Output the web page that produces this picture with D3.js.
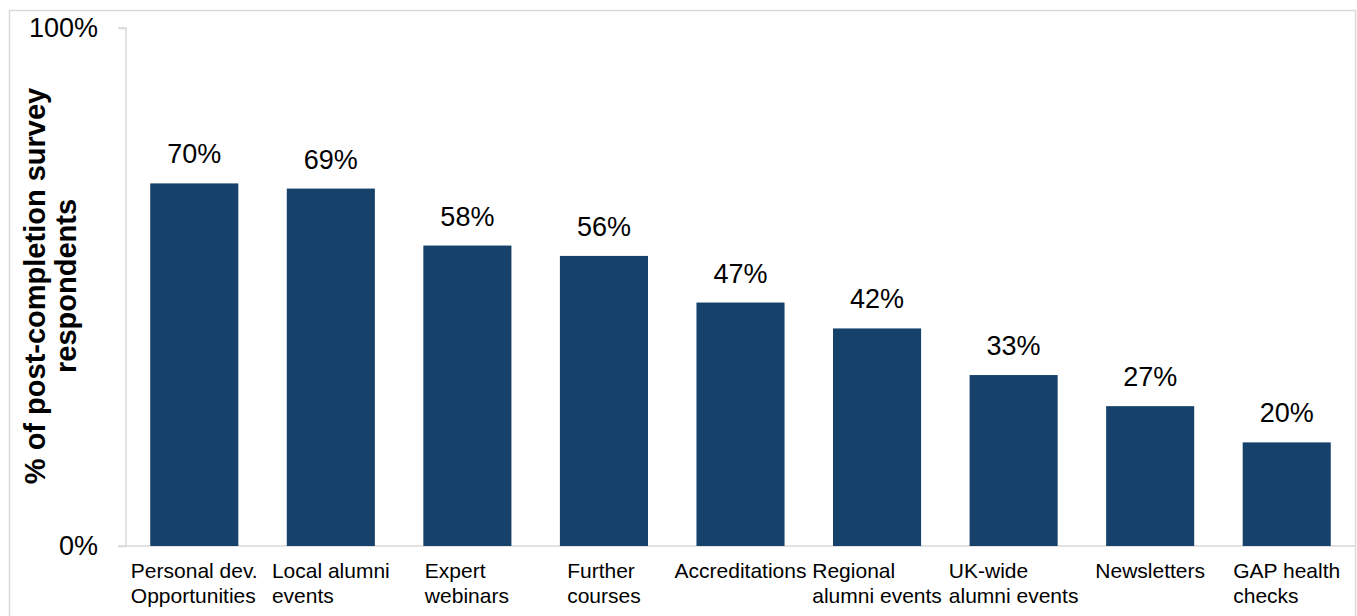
<!DOCTYPE html>
<html>
<head>
<meta charset="utf-8">
<script src="https://cdn.jsdelivr.net/npm/d3@7"></script>
<style>
  html, body { margin: 0; padding: 0; background: #fff; }
  svg { display: block; font-family: "Liberation Sans", Arial, sans-serif; }
</style>
</head>
<body>
<svg id="chart" width="1357" height="616"></svg>
<script>
// Categories (each entry is the lines of a wrapped axis label)
const categories = [
  ["Personal dev.", "Opportunities"],
  ["Local alumni", "events"],
  ["Expert", "webinars"],
  ["Further", "courses"],
  ["Accreditations"],
  ["Regional", "alumni events"],
  ["UK-wide", "alumni events"],
  ["Newsletters"],
  ["GAP health", "checks"]
];
const values = [0.70, 0.69, 0.58, 0.56, 0.47, 0.42, 0.33, 0.27, 0.20];
const yTicks = [0, 1];
const yTitle = ["% of post-completion survey", "respondents"];

const svg = d3.select("#chart");
const plotLeft = 126, plotRight = 1355, plotTop = 28, plotBottom = 546;

// Outer chart frame
svg.append("rect")
  .attr("x", 9.5).attr("y", 10.5)
  .attr("width", 1346).attr("height", 620)
  .attr("fill", "none").attr("stroke", "#d9d9d9").attr("stroke-width", 1.5);

const x = d3.scaleBand()
  .domain(d3.range(categories.length))
  .range([plotLeft, plotRight])
  .paddingInner(0.355)
  .paddingOuter(0.1775);

const y = d3.scaleLinear().domain([0, 1]).range([plotBottom, plotTop]);

// Y axis
const yAxis = svg.append("g")
  .attr("transform", `translate(${plotLeft},0)`)
  .call(d3.axisLeft(y).tickValues(yTicks).tickFormat(d3.format(".0%")).tickSize(8).tickPadding(20));
yAxis.select(".domain").attr("stroke", "#d9d9d9").attr("stroke-width", 1.5)
  .attr("d", `M-8,${y(1)}H0V${plotBottom}`);
yAxis.selectAll(".tick line").attr("stroke", "#d9d9d9").attr("stroke-width", 1.5);
yAxis.selectAll(".tick text")
  .attr("font-size", 27).attr("fill", "#000")
  .attr("font-family", "Liberation Sans, Arial, sans-serif");

// X axis baseline
svg.append("line")
  .attr("x1", plotLeft - 8).attr("x2", plotRight)
  .attr("y1", plotBottom).attr("y2", plotBottom)
  .attr("stroke", "#d9d9d9").attr("stroke-width", 1.5);

// Bars
svg.append("g").selectAll("rect")
  .data(values)
  .join("rect")
  .attr("x", (d, i) => x(i))
  .attr("y", d => y(d))
  .attr("width", x.bandwidth())
  .attr("height", d => y(0) - y(d))
  .attr("fill", "#15416a");

// Value labels
svg.append("g").selectAll("text")
  .data(values)
  .join("text")
  .attr("x", (d, i) => x(i) + x.bandwidth() / 2)
  .attr("y", d => y(d) - 20)
  .attr("text-anchor", "middle")
  .attr("font-size", 27)
  .attr("fill", "#000")
  .text(d => d3.format(".0%")(d));

// Category labels: block centred under the bar, lines left-aligned
const catG = svg.append("g");
categories.forEach((lines, i) => {
  const t = catG.append("text")
    .attr("font-size", 21)
    .attr("fill", "#000")
    .attr("text-anchor", "start");
  lines.forEach((ln, j) => {
    t.append("tspan").attr("x", 0).attr("y", 578 + j * 25).text(ln);
  });
  const w = t.node().getBBox().width;
  const cx = x(i) + x.bandwidth() / 2;
  t.selectAll("tspan").attr("x", cx - w / 2);
});

// Y axis title
const tt = svg.append("text")
  .attr("transform", `translate(0,${(plotTop + plotBottom) / 2 - 1}) rotate(-90)`)
  .attr("text-anchor", "middle")
  .attr("font-size", 29)
  .attr("font-weight", "bold")
  .attr("fill", "#000");
yTitle.forEach((ln, j) => {
  tt.append("tspan").attr("x", 0).attr("y", 45 + j * 31).text(ln);
});
</script>
</body>
</html>
